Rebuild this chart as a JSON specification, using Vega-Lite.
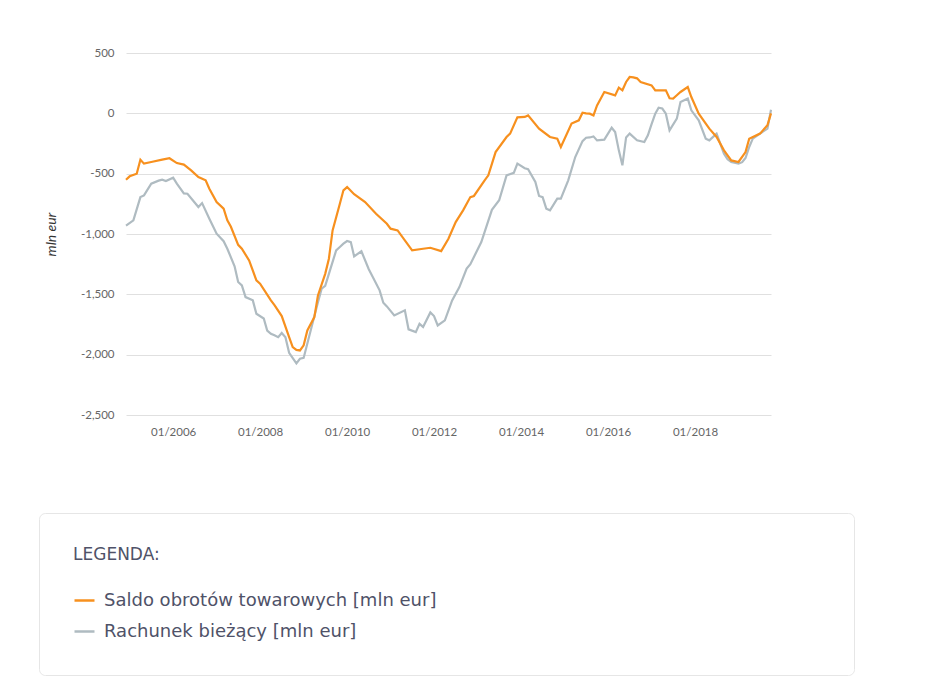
{
  "$schema": "https://vega.github.io/schema/vega-lite/v6.json",
  "description": "Saldo obrotów towarowych i rachunek bieżący, mln eur, 2004-2019",
  "padding": {"left": 38, "top": 47, "right": 0, "bottom": 0},
  "background": "white",
  "width": 645,
  "height": 362,
  "config": {
    "font": "Lato",
    "view": {"stroke": null},
    "axis": {
      "labelFont": "Lato",
      "labelFontSize": 11.5,
      "labelColor": "#666666",
      "domain": false,
      "ticks": false,
      "gridWidth": 1
    },
    "legend": {
      "titleFont": "DejaVu Sans",
      "titleFontSize": 17,
      "titleFontWeight": "normal",
      "titleColor": "#4f5268",
      "titleLimit": 2000,
      "labelFont": "DejaVu Sans",
      "labelFontSize": 18,
      "labelColor": "#4f5268",
      "labelLimit": 600
    }
  },
  "datasets": {
    "saldo": [
      {"d": "2004-12", "v": -550}, {"d": "2005-01", "v": -522}, {"d": "2005-03", "v": -500},
      {"d": "2005-04", "v": -385}, {"d": "2005-05", "v": -417}, {"d": "2005-07", "v": -403},
      {"d": "2005-10", "v": -384}, {"d": "2005-12", "v": -372}, {"d": "2006-02", "v": -412},
      {"d": "2006-04", "v": -425}, {"d": "2006-06", "v": -473}, {"d": "2006-08", "v": -528},
      {"d": "2006-10", "v": -555}, {"d": "2006-11", "v": -625}, {"d": "2007-01", "v": -735},
      {"d": "2007-03", "v": -790}, {"d": "2007-04", "v": -887}, {"d": "2007-05", "v": -940},
      {"d": "2007-07", "v": -1090}, {"d": "2007-08", "v": -1122}, {"d": "2007-10", "v": -1219},
      {"d": "2007-12", "v": -1384}, {"d": "2008-01", "v": -1412}, {"d": "2008-04", "v": -1550},
      {"d": "2008-05", "v": -1590}, {"d": "2008-07", "v": -1680}, {"d": "2008-09", "v": -1855},
      {"d": "2008-10", "v": -1937}, {"d": "2008-11", "v": -1960}, {"d": "2008-12", "v": -1965},
      {"d": "2009-01", "v": -1923}, {"d": "2009-02", "v": -1799}, {"d": "2009-04", "v": -1689},
      {"d": "2009-05", "v": -1509}, {"d": "2009-07", "v": -1330}, {"d": "2009-08", "v": -1205},
      {"d": "2009-09", "v": -970}, {"d": "2009-11", "v": -749}, {"d": "2009-12", "v": -638},
      {"d": "2010-01", "v": -611}, {"d": "2010-03", "v": -670}, {"d": "2010-06", "v": -735},
      {"d": "2010-09", "v": -832}, {"d": "2010-12", "v": -915}, {"d": "2011-01", "v": -956},
      {"d": "2011-03", "v": -970}, {"d": "2011-07", "v": -1136}, {"d": "2011-10", "v": -1122},
      {"d": "2011-12", "v": -1114}, {"d": "2012-03", "v": -1142}, {"d": "2012-05", "v": -1039},
      {"d": "2012-07", "v": -901}, {"d": "2012-09", "v": -804}, {"d": "2012-11", "v": -694},
      {"d": "2012-12", "v": -685}, {"d": "2013-03", "v": -555}, {"d": "2013-04", "v": -514},
      {"d": "2013-06", "v": -321}, {"d": "2013-09", "v": -196}, {"d": "2013-10", "v": -168},
      {"d": "2013-12", "v": -33}, {"d": "2014-02", "v": -30}, {"d": "2014-03", "v": -17},
      {"d": "2014-06", "v": -127}, {"d": "2014-09", "v": -196}, {"d": "2014-11", "v": -210},
      {"d": "2014-12", "v": -279}, {"d": "2015-03", "v": -85}, {"d": "2015-05", "v": -58},
      {"d": "2015-06", "v": 5}, {"d": "2015-07", "v": 0}, {"d": "2015-08", "v": -3},
      {"d": "2015-09", "v": -17}, {"d": "2015-10", "v": 66}, {"d": "2015-12", "v": 177},
      {"d": "2016-03", "v": 149}, {"d": "2016-04", "v": 213}, {"d": "2016-05", "v": 191},
      {"d": "2016-06", "v": 260}, {"d": "2016-07", "v": 301}, {"d": "2016-08", "v": 298},
      {"d": "2016-09", "v": 290}, {"d": "2016-10", "v": 260}, {"d": "2017-01", "v": 232},
      {"d": "2017-02", "v": 191}, {"d": "2017-05", "v": 191}, {"d": "2017-06", "v": 125},
      {"d": "2017-07", "v": 122}, {"d": "2017-08", "v": 150}, {"d": "2017-09", "v": 177},
      {"d": "2017-11", "v": 218}, {"d": "2017-12", "v": 135}, {"d": "2018-02", "v": -3},
      {"d": "2018-05", "v": -127}, {"d": "2018-07", "v": -196}, {"d": "2018-09", "v": -307},
      {"d": "2018-11", "v": -390}, {"d": "2019-01", "v": -403}, {"d": "2019-03", "v": -321},
      {"d": "2019-04", "v": -210}, {"d": "2019-07", "v": -168}, {"d": "2019-09", "v": -99},
      {"d": "2019-10", "v": 0}
    ],
    "rachunek": [
      {"d": "2004-12", "v": -930}, {"d": "2005-02", "v": -887}, {"d": "2005-04", "v": -694},
      {"d": "2005-05", "v": -680}, {"d": "2005-07", "v": -583}, {"d": "2005-09", "v": -558},
      {"d": "2005-10", "v": -550}, {"d": "2005-11", "v": -561}, {"d": "2006-01", "v": -533},
      {"d": "2006-02", "v": -583}, {"d": "2006-04", "v": -663}, {"d": "2006-05", "v": -666},
      {"d": "2006-08", "v": -776}, {"d": "2006-09", "v": -744}, {"d": "2006-11", "v": -873},
      {"d": "2007-01", "v": -997}, {"d": "2007-03", "v": -1060}, {"d": "2007-04", "v": -1122},
      {"d": "2007-06", "v": -1267}, {"d": "2007-07", "v": -1398}, {"d": "2007-08", "v": -1426},
      {"d": "2007-09", "v": -1523}, {"d": "2007-11", "v": -1550}, {"d": "2007-12", "v": -1661},
      {"d": "2008-02", "v": -1700}, {"d": "2008-03", "v": -1800}, {"d": "2008-04", "v": -1827},
      {"d": "2008-05", "v": -1840}, {"d": "2008-06", "v": -1855}, {"d": "2008-07", "v": -1820},
      {"d": "2008-08", "v": -1855}, {"d": "2008-09", "v": -1985}, {"d": "2008-11", "v": -2072},
      {"d": "2008-12", "v": -2034}, {"d": "2009-01", "v": -2027}, {"d": "2009-03", "v": -1800},
      {"d": "2009-05", "v": -1565}, {"d": "2009-06", "v": -1453}, {"d": "2009-07", "v": -1430},
      {"d": "2009-08", "v": -1330}, {"d": "2009-10", "v": -1136}, {"d": "2009-11", "v": -1108},
      {"d": "2009-12", "v": -1080}, {"d": "2010-01", "v": -1058}, {"d": "2010-02", "v": -1067},
      {"d": "2010-03", "v": -1185}, {"d": "2010-05", "v": -1143}, {"d": "2010-07", "v": -1290},
      {"d": "2010-10", "v": -1467}, {"d": "2010-11", "v": -1570}, {"d": "2010-12", "v": -1600},
      {"d": "2011-02", "v": -1675}, {"d": "2011-05", "v": -1633}, {"d": "2011-06", "v": -1790},
      {"d": "2011-08", "v": -1813}, {"d": "2011-09", "v": -1745}, {"d": "2011-10", "v": -1770},
      {"d": "2011-12", "v": -1650}, {"d": "2012-01", "v": -1680}, {"d": "2012-02", "v": -1758},
      {"d": "2012-04", "v": -1716}, {"d": "2012-06", "v": -1550}, {"d": "2012-08", "v": -1440},
      {"d": "2012-10", "v": -1287}, {"d": "2012-11", "v": -1250}, {"d": "2013-02", "v": -1067},
      {"d": "2013-05", "v": -800}, {"d": "2013-07", "v": -720}, {"d": "2013-09", "v": -514},
      {"d": "2013-11", "v": -493}, {"d": "2013-12", "v": -417}, {"d": "2014-02", "v": -455},
      {"d": "2014-03", "v": -463}, {"d": "2014-05", "v": -569}, {"d": "2014-06", "v": -685},
      {"d": "2014-07", "v": -694}, {"d": "2014-08", "v": -790}, {"d": "2014-09", "v": -804},
      {"d": "2014-11", "v": -707}, {"d": "2014-12", "v": -707}, {"d": "2015-02", "v": -555},
      {"d": "2015-04", "v": -362}, {"d": "2015-06", "v": -230}, {"d": "2015-07", "v": -202},
      {"d": "2015-08", "v": -200}, {"d": "2015-09", "v": -191}, {"d": "2015-10", "v": -224},
      {"d": "2015-12", "v": -218}, {"d": "2016-02", "v": -119}, {"d": "2016-03", "v": -155},
      {"d": "2016-04", "v": -307}, {"d": "2016-05", "v": -431}, {"d": "2016-06", "v": -200},
      {"d": "2016-07", "v": -168}, {"d": "2016-09", "v": -224}, {"d": "2016-11", "v": -238},
      {"d": "2016-12", "v": -182}, {"d": "2017-01", "v": -90}, {"d": "2017-02", "v": -3},
      {"d": "2017-03", "v": 47}, {"d": "2017-04", "v": 40}, {"d": "2017-05", "v": -3},
      {"d": "2017-06", "v": -141}, {"d": "2017-08", "v": -44}, {"d": "2017-09", "v": 94},
      {"d": "2017-11", "v": 122}, {"d": "2017-12", "v": 25}, {"d": "2018-02", "v": -58},
      {"d": "2018-04", "v": -210}, {"d": "2018-05", "v": -224}, {"d": "2018-07", "v": -168},
      {"d": "2018-09", "v": -334}, {"d": "2018-10", "v": -380}, {"d": "2018-11", "v": -403},
      {"d": "2019-01", "v": -417}, {"d": "2019-02", "v": -405}, {"d": "2019-03", "v": -370},
      {"d": "2019-04", "v": -279}, {"d": "2019-05", "v": -210}, {"d": "2019-07", "v": -168},
      {"d": "2019-09", "v": -127}, {"d": "2019-10", "v": 30}
    ]
  },
  "layer": [
    {
      "data": {"name": "rachunek"},
      "transform": [{"calculate": "'Rachunek bieżący [mln eur]'", "as": "s"}],
      "mark": {"type": "line", "strokeWidth": 2.2},
      "encoding": {
        "x": {"field": "d", "type": "temporal"},
        "y": {"field": "v", "type": "quantitative"},
        "color": {"field": "s", "type": "nominal"}
      }
    },
    {
      "data": {"name": "saldo"},
      "transform": [{"calculate": "'Saldo obrotów towarowych [mln eur]'", "as": "s"}],
      "mark": {"type": "line", "strokeWidth": 2.2},
      "encoding": {
        "x": {
          "field": "d",
          "type": "temporal",
          "title": null,
          "scale": {"domain": ["2004-12-01", "2019-10-01"]},
          "axis": {
            "values": ["2006-01-01", "2008-01-01", "2010-01-01", "2012-01-01", "2014-01-01", "2016-01-01", "2018-01-01"],
            "format": "%m/%Y",
            "grid": false,
            "labelPadding": 11
          }
        },
        "y": {
          "field": "v",
          "type": "quantitative",
          "title": "mln eur",
          "scale": {"domain": [-2500, 500], "nice": false},
          "axis": {
            "values": [-2500, -2250, -2000, -1750, -1500, -1250, -1000, -750, -500, -250, 0, 250, 500],
            "labelExpr": "datum.value % 500 === 0 ? replace(format(datum.value, ','), '−', '-') : ''",
            "labelPadding": 12,
            "gridColor": {"condition": {"test": "datum.value % 500 === 0", "value": "#e0e0e0"}, "value": "#eeeeee"},
            "titleFont": "Lato",
            "titleFontStyle": "italic",
            "titleFontWeight": "normal",
            "titleFontSize": 14,
            "titleColor": "#333333",
            "titlePadding": 22
          }
        },
        "color": {
          "field": "s",
          "type": "nominal",
          "scale": {
            "domain": ["Saldo obrotów towarowych [mln eur]", "Rachunek bieżący [mln eur]"],
            "range": ["#f7901e", "#afbbc1"]
          },
          "legend": {
            "title": "LEGENDA:\u2800\u2800\u2800\u2800\u2800\u2800\u2800\u2800\u2800\u2800\u2800\u2800\u2800\u2800\u2800\u2800\u2800\u2800\u2800\u2800\u2800\u2800\u2800\u2800\u2800\u2800\u2800\u2800\u2800\u2800\u2800\u2800\u2800\u2800\u2800\u2800\u2800\u2800\u2800\u2800\u2800\u2800\u2800\u2800\u2800\u2800\u2800\u2800\u2800\u2800\u2800\u2800\u2800",
            "orient": "none",
            "legendX": -87,
            "legendY": 460,
            "padding": 34,
            "fillColor": "white",
            "strokeColor": "#e6e6e6",
            "cornerRadius": 6,
            "titlePadding": 25,
            "symbolType": "stroke",
            "symbolSize": 400,
            "symbolStrokeWidth": 2.5,
            "labelOffset": 8,
            "rowPadding": 10
          }
        }
      }
    },
    {
      "mark": {"type": "rule", "color": "#8e8e8e", "strokeWidth": 1.5},
      "encoding": {"y": {"datum": 0}}
    }
  ]
}
